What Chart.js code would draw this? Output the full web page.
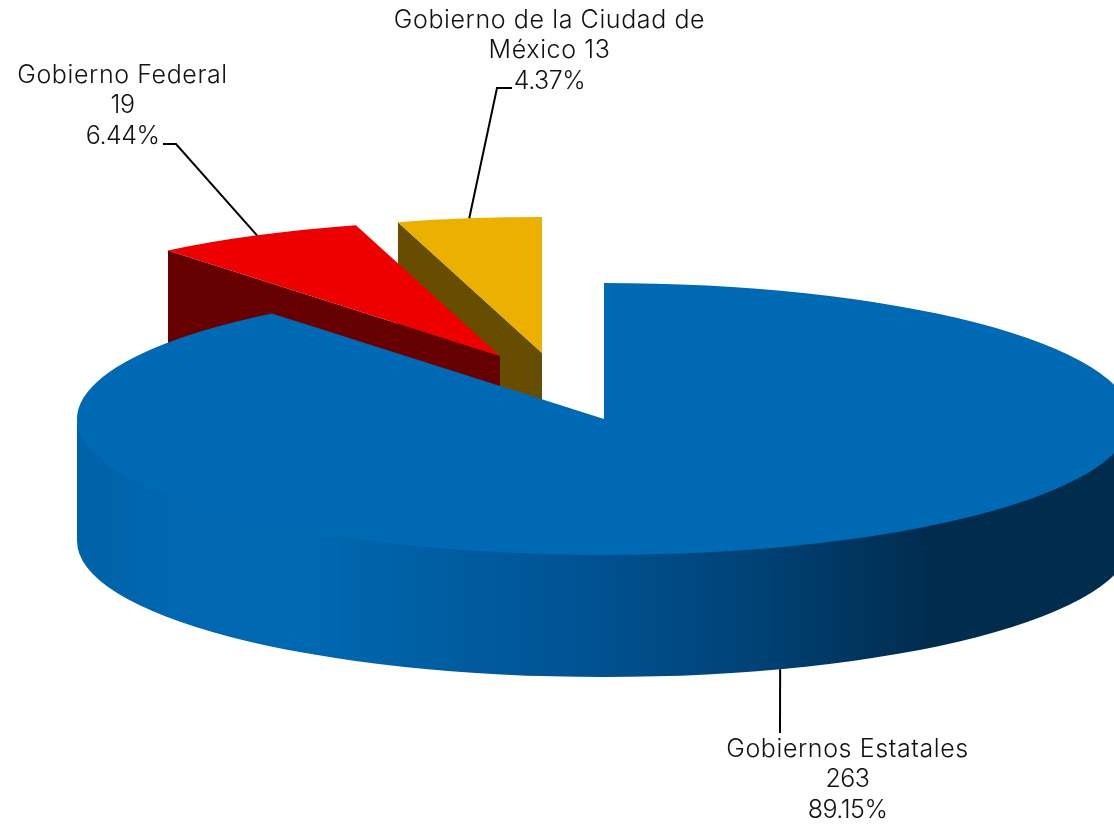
<!DOCTYPE html>
<html>
<head>
<meta charset="utf-8">
<title>Gobiernos</title>
<script src="https://cdn.jsdelivr.net/npm/chart.js@4"></script>
<style>
  html, body { margin: 0; padding: 0; background: #fff; }
  canvas { display: block; }
</style>
</head>
<body>
<canvas id="myChart" width="1114" height="825"></canvas>
<script>
const categories = ["Gobiernos Estatales", "Gobierno Federal", "Gobierno de la Ciudad de México"];
const values = [263, 19, 13];
const percents = ["89.15%", "6.44%", "4.37%"];
const colors = ["#0069b4", "#ee0000", "#ecb100"];
const sideColors = ["#00447a", "#660000", "#664d00"];

// 3d look: the flat pie is squashed and pulled down by hand
const radius = 527;
const squash = 136 / 527;
const depth = 122;
const explode = [[0, 0], [-104, -63], [-62, -66]];
const drawOrder = [2, 1, 0];

const labelLines = [
  [categories[0], String(values[0]), percents[0]],
  [categories[1], String(values[1]), percents[1]],
  ["Gobierno de la Ciudad de", "México " + values[2], percents[2]],
];
const labelPos = [
  { x: 847.5, y: 757 },
  { x: 122.5, y: 83 },
  { x: 549.5, y: 28 },
];
const leaders = [
  { front: true, to: [[780, 733]] },
  { front: false, to: [[176, 144], [163, 144]] },
  { front: false, to: [[497, 88], [512, 88]] },
];

function wallGradient(ctx) {
  const g = ctx.createLinearGradient(77, 0, 1131, 0);
  const stops = [
    [77, "#0062a8"], [170, "#0067b0"], [310, "#0068b1"], [460, "#005c9f"],
    [600, "#005191"], [780, "#003f70"], [930, "#002c4e"], [1131, "#002c4e"],
  ];
  stops.forEach(s => g.addColorStop((s[0] - 77) / (1131 - 77), s[1]));
  return g;
}

function drawSlice(ctx, arc, i) {
  const cx = arc.x + explode[i][0];
  const cy = arc.y + explode[i][1];
  const r = arc.outerRadius;
  const ry = r * squash;

  // cut face on the start side
  const ax = cx + r * Math.cos(arc.startAngle);
  const ay = cy + ry * Math.sin(arc.startAngle);
  ctx.fillStyle = sideColors[i];
  ctx.beginPath();
  ctx.moveTo(ax, ay);
  ctx.lineTo(cx, cy);
  ctx.lineTo(cx, cy + depth);
  ctx.lineTo(ax, ay + depth);
  ctx.closePath();
  if (i !== 0) ctx.fill();

  // outer wall, only the part facing us. top edge goes a bit under the top face, no seam
  const from = Math.max(arc.startAngle, 0);
  const to = Math.min(arc.endAngle, Math.PI);
  if (to > from) {
    ctx.fillStyle = i === 0 ? wallGradient(ctx) : sideColors[i];
    ctx.beginPath();
    ctx.ellipse(cx, cy - 3, r, ry, 0, from, to);
    ctx.ellipse(cx, cy + depth, r, ry, 0, to, from, true);
    ctx.closePath();
    ctx.fill();
  }

  // top face is the library's own arc
  ctx.save();
  ctx.translate(cx, cy);
  ctx.scale(1, squash);
  ctx.translate(-arc.x, -arc.y);
  arc.draw(ctx);
  ctx.restore();
}

const pie3d = {
  id: "pie3d",
  beforeDatasetsDraw(chart) {
    const ctx = chart.ctx;
    const arcs = chart.getDatasetMeta(0).data;
    drawOrder.forEach(i => drawSlice(ctx, arcs[i], i));
    return false;
  },
  afterDraw(chart) {
    const ctx = chart.ctx;
    const arcs = chart.getDatasetMeta(0).data;
    ctx.save();
    ctx.strokeStyle = "#000";
    ctx.lineWidth = 2;
    arcs.forEach((arc, i) => {
      const mid = (arc.startAngle + arc.endAngle) / 2;
      const px = arc.x + explode[i][0] + arc.outerRadius * Math.cos(mid);
      const py = arc.y + explode[i][1] + arc.outerRadius * squash * Math.sin(mid) + (leaders[i].front ? depth : 0);
      ctx.beginPath();
      ctx.moveTo(px, py);
      leaders[i].to.forEach(p => ctx.lineTo(p[0], p[1]));
      ctx.stroke();
    });
    ctx.fillStyle = "#111";
    ctx.textAlign = "center";
    ctx.font = "350 25px Inter";
    labelLines.forEach((lines, i) => {
      lines.forEach((t, j) => {
        // names run wider and digits narrower than Inter
        ctx.letterSpacing = /^[\d.%]+$/.test(t) ? "-0.5px" : "0.6px";
        ctx.fillText(t, labelPos[i].x, labelPos[i].y + j * 30.3);
      });
    });
    ctx.restore();
  },
};

new Chart(document.getElementById("myChart").getContext("2d"), {
  type: "pie",
  data: {
    labels: categories,
    datasets: [{
      data: values,
      backgroundColor: colors,
      borderWidth: 0,
      radius: radius,
    }],
  },
  options: {
    responsive: false,
    animation: false,
    layout: { padding: { left: 94, top: 13 } },
    plugins: { legend: { display: false }, tooltip: { enabled: false } },
  },
  plugins: [pie3d],
});
</script>
</body>
</html>
